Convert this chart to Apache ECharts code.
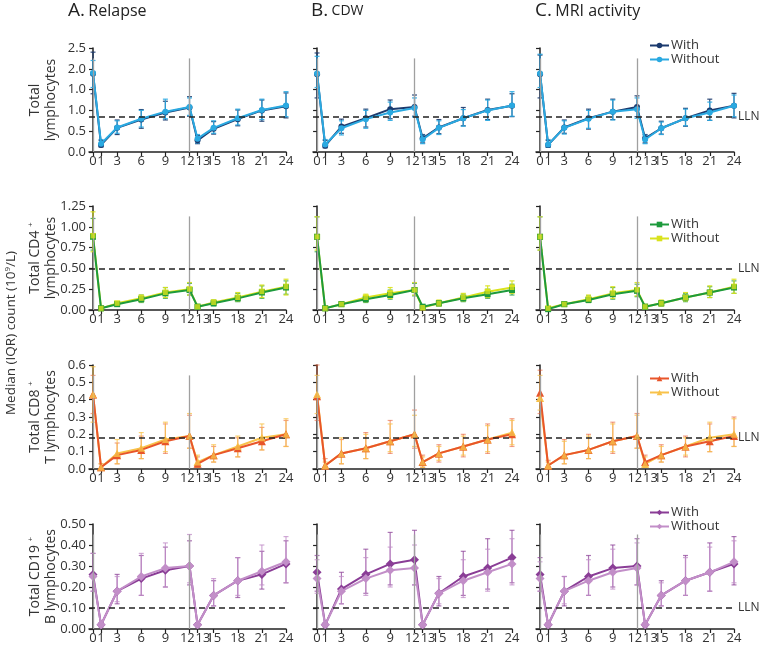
<!DOCTYPE html>
<html>
<head>
<meta charset="utf-8">
<script src="https://cdn.jsdelivr.net/npm/echarts@6/dist/echarts.min.js"></script>
<style>
html,body{margin:0;padding:0;background:#fff;}
#chart{width:760px;height:645px;}
</style>
</head>
<body>
<div id="chart"></div>
<script>
// ---------- DATA ----------
const months = [0, 1, 3, 6, 9, 12, 13, 15, 18, 21, 24];
const columnLetters = ['A.', 'B.', 'C.'];
const columnTitles = ['Relapse', 'CDW', 'MRI activity'];
const seriesNames = ['With', 'Without'];

const lymTicks = ['0.0', '0.5', '1.0', '1.0', '2.0', '2.5'];
const cd4Ticks = ['0.00', '0.25', '0.50', '0.75', '1.00', '1.25'];
const cd8Ticks = ['0.0', '0.1', '0.2', '0.3', '0.4', '0.5', '0.6'];
const cd19Ticks = ['0.00', '0.10', '0.20', '0.30', '0.40', '0.50'];

const llnValues = [0.85, 0.50, 0.18, 0.10];
const courseMonths = [0, 12];

// each entry: [median, Q1, Q3] at months[i]
const lymA_with = [[1.88,1.40,2.40],[0.17,0.12,0.28],[0.58,0.42,0.77],[0.78,0.57,1.02],[0.95,0.77,1.22],[1.07,0.86,1.33],[0.28,0.20,0.40],[0.56,0.43,0.73],[0.79,0.63,1.01],[1.00,0.74,1.25],[1.10,0.82,1.42]];
const lymA_without = [[1.90,1.55,2.20],[0.20,0.14,0.30],[0.59,0.45,0.75],[0.80,0.60,1.00],[0.97,0.80,1.27],[1.08,0.88,1.30],[0.32,0.22,0.42],[0.58,0.45,0.75],[0.81,0.65,1.03],[1.01,0.78,1.27],[1.12,0.85,1.45]];
const lymB_with = [[1.87,1.30,2.38],[0.15,0.10,0.28],[0.61,0.45,0.79],[0.81,0.60,1.03],[1.03,0.80,1.25],[1.08,0.86,1.37],[0.33,0.22,0.42],[0.59,0.44,0.78],[0.81,0.63,1.07],[1.01,0.78,1.27],[1.11,0.85,1.40]];
const lymB_without = [[1.89,1.55,2.30],[0.18,0.12,0.30],[0.57,0.41,0.75],[0.79,0.57,1.00],[0.95,0.76,1.20],[1.06,0.84,1.30],[0.30,0.20,0.40],[0.58,0.42,0.75],[0.81,0.62,1.02],[1.00,0.76,1.25],[1.12,0.86,1.45]];
const lymC_with = [[1.87,1.30,2.33],[0.17,0.11,0.28],[0.59,0.45,0.77],[0.81,0.55,1.03],[0.97,0.78,1.27],[1.08,0.85,1.35],[0.33,0.22,0.42],[0.57,0.43,0.74],[0.81,0.62,1.05],[1.00,0.76,1.27],[1.11,0.82,1.41]];
const lymC_without = [[1.89,1.55,2.35],[0.18,0.12,0.30],[0.58,0.43,0.75],[0.80,0.57,1.00],[0.97,0.77,1.25],[1.03,0.81,1.30],[0.30,0.20,0.40],[0.57,0.42,0.72],[0.81,0.63,1.03],[0.95,0.76,1.20],[1.11,0.85,1.37]];

const cd4A_with = [[0.88,0.72,1.10],[0.02,0.01,0.03],[0.07,0.05,0.10],[0.13,0.09,0.18],[0.20,0.14,0.27],[0.24,0.18,0.32],[0.04,0.02,0.06],[0.08,0.05,0.12],[0.14,0.10,0.20],[0.21,0.14,0.29],[0.27,0.19,0.35]];
const cd4A_without = [[0.89,0.70,1.18],[0.02,0.01,0.03],[0.08,0.05,0.10],[0.14,0.10,0.18],[0.21,0.15,0.27],[0.25,0.18,0.33],[0.04,0.02,0.06],[0.09,0.06,0.12],[0.15,0.11,0.21],[0.22,0.15,0.30],[0.28,0.18,0.37]];
const cd4B_with = [[0.88,0.70,1.12],[0.02,0.01,0.03],[0.07,0.05,0.10],[0.13,0.09,0.17],[0.18,0.13,0.24],[0.24,0.17,0.32],[0.04,0.02,0.06],[0.08,0.05,0.11],[0.14,0.10,0.19],[0.19,0.14,0.25],[0.24,0.18,0.31]];
const cd4B_without = [[0.88,0.72,1.12],[0.02,0.01,0.03],[0.07,0.05,0.10],[0.15,0.10,0.19],[0.20,0.14,0.27],[0.24,0.18,0.33],[0.03,0.02,0.05],[0.08,0.05,0.12],[0.15,0.11,0.20],[0.22,0.15,0.29],[0.27,0.20,0.35]];
const cd4C_with = [[0.88,0.72,1.12],[0.01,0.01,0.03],[0.07,0.05,0.10],[0.12,0.09,0.17],[0.19,0.13,0.27],[0.23,0.16,0.31],[0.04,0.02,0.06],[0.08,0.05,0.11],[0.15,0.10,0.20],[0.21,0.15,0.28],[0.27,0.20,0.35]];
const cd4C_without = [[0.88,0.72,1.12],[0.02,0.01,0.03],[0.07,0.05,0.10],[0.13,0.09,0.18],[0.20,0.14,0.28],[0.24,0.17,0.33],[0.04,0.02,0.06],[0.08,0.05,0.12],[0.15,0.11,0.21],[0.21,0.15,0.29],[0.28,0.20,0.37]];

const cd8A_with = [[0.43,0.32,0.54],[0.01,0.00,0.03],[0.08,0.03,0.15],[0.11,0.06,0.19],[0.16,0.09,0.26],[0.19,0.12,0.31],[0.03,0.01,0.07],[0.08,0.04,0.13],[0.12,0.07,0.18],[0.16,0.11,0.24],[0.20,0.13,0.28]];
const cd8A_without = [[0.43,0.27,0.59],[0.01,0.00,0.03],[0.09,0.03,0.17],[0.12,0.06,0.21],[0.17,0.10,0.27],[0.19,0.12,0.32],[0.04,0.01,0.08],[0.08,0.04,0.14],[0.13,0.07,0.19],[0.18,0.11,0.26],[0.20,0.13,0.29]];
const cd8B_with = [[0.42,0.28,0.60],[0.02,0.00,0.06],[0.09,0.03,0.17],[0.12,0.06,0.21],[0.16,0.09,0.28],[0.20,0.12,0.34],[0.04,0.01,0.08],[0.09,0.04,0.14],[0.13,0.07,0.20],[0.17,0.09,0.26],[0.20,0.13,0.29]];
const cd8B_without = [[0.43,0.32,0.54],[0.02,0.00,0.04],[0.09,0.03,0.18],[0.12,0.06,0.20],[0.16,0.10,0.26],[0.20,0.13,0.31],[0.04,0.01,0.07],[0.09,0.05,0.13],[0.13,0.08,0.19],[0.17,0.10,0.25],[0.21,0.14,0.28]];
const cd8C_with = [[0.44,0.32,0.57],[0.02,0.00,0.05],[0.08,0.03,0.17],[0.11,0.06,0.20],[0.16,0.09,0.27],[0.19,0.12,0.32],[0.04,0.01,0.08],[0.08,0.04,0.14],[0.13,0.07,0.19],[0.16,0.10,0.26],[0.19,0.13,0.30]];
const cd8C_without = [[0.41,0.34,0.54],[0.02,0.00,0.04],[0.08,0.03,0.16],[0.11,0.06,0.19],[0.16,0.10,0.26],[0.19,0.12,0.31],[0.03,0.01,0.07],[0.08,0.04,0.13],[0.13,0.08,0.18],[0.18,0.10,0.27],[0.20,0.13,0.29]];

const cd19A_with = [[0.26,0.18,0.36],[0.02,0.01,0.03],[0.18,0.12,0.26],[0.24,0.16,0.35],[0.28,0.20,0.39],[0.30,0.21,0.42],[0.02,0.01,0.03],[0.16,0.11,0.23],[0.23,0.15,0.34],[0.26,0.19,0.37],[0.31,0.22,0.42]];
const cd19A_without = [[0.25,0.18,0.36],[0.02,0.01,0.03],[0.18,0.13,0.25],[0.25,0.16,0.36],[0.29,0.20,0.41],[0.30,0.22,0.45],[0.02,0.01,0.03],[0.16,0.11,0.24],[0.23,0.16,0.34],[0.275,0.21,0.40],[0.32,0.22,0.44]];
const cd19B_with = [[0.27,0.18,0.35],[0.02,0.01,0.03],[0.19,0.12,0.27],[0.26,0.17,0.38],[0.31,0.21,0.46],[0.33,0.21,0.47],[0.02,0.01,0.03],[0.17,0.11,0.25],[0.25,0.16,0.37],[0.29,0.19,0.43],[0.34,0.22,0.47]];
const cd19B_without = [[0.24,0.17,0.33],[0.02,0.01,0.03],[0.18,0.12,0.25],[0.24,0.16,0.34],[0.28,0.20,0.39],[0.29,0.21,0.40],[0.02,0.01,0.03],[0.17,0.12,0.24],[0.23,0.15,0.33],[0.27,0.18,0.38],[0.31,0.21,0.43]];
const cd19C_with = [[0.26,0.18,0.34],[0.02,0.01,0.03],[0.18,0.11,0.25],[0.25,0.16,0.35],[0.29,0.20,0.40],[0.30,0.21,0.43],[0.02,0.01,0.03],[0.16,0.11,0.23],[0.23,0.16,0.35],[0.27,0.18,0.41],[0.31,0.21,0.44]];
const cd19C_without = [[0.24,0.18,0.32],[0.02,0.01,0.03],[0.18,0.12,0.25],[0.23,0.16,0.33],[0.27,0.19,0.38],[0.29,0.21,0.41],[0.02,0.01,0.03],[0.16,0.11,0.22],[0.23,0.16,0.34],[0.27,0.18,0.39],[0.32,0.22,0.42]];

// ---------- STYLE / LAYOUT ----------
const FONT = 'Open Sans';
const rowsCfg = [
  { ticks: lymTicks, max: 2.5, interval: 0.5,
    panels: [[lymA_with, lymA_without], [lymB_with, lymB_without], [lymC_with, lymC_without]],
    colors: ['#1b3a6e', '#2aa9e1'], err: ['rgba(27,58,110,0.9)', 'rgba(42,169,225,0.9)'],
    symbol: 'circle', size: 6, withOnTop: false,
    label: '{a|Total}\n{a|lymphocytes}' },
  { ticks: cd4Ticks, max: 1.25, interval: 0.25,
    panels: [[cd4A_with, cd4A_without], [cd4B_with, cd4B_without], [cd4C_with, cd4C_without]],
    colors: ['#1d9a3c', '#d9e21c'], err: ['rgba(29,154,60,0.75)', 'rgba(217,226,28,0.9)'],
    symbol: 'rect', size: 6, withOnTop: true,
    label: '{a|Total CD4 }{s|+}\n{a|lymphocytes}' },
  { ticks: cd8Ticks, max: 0.6, interval: 0.1,
    panels: [[cd8A_with, cd8A_without], [cd8B_with, cd8B_without], [cd8C_with, cd8C_without]],
    colors: ['#e8552a', '#f8c24a'], err: ['rgba(232,85,42,0.55)', 'rgba(248,194,74,0.75)'],
    symbol: 'triangle', size: 8, withOnTop: true,
    label: '{a|Total CD8 }{s|+}\n{a|T lymphocytes}' },
  { ticks: cd19Ticks, max: 0.5, interval: 0.1,
    panels: [[cd19A_with, cd19A_without], [cd19B_with, cd19B_without], [cd19C_with, cd19C_without]],
    colors: ['#8a3d96', '#c28ec8'], err: ['rgba(138,61,150,0.7)', 'rgba(194,142,200,0.75)'],
    symbol: 'diamond', size: 9, withOnTop: false,
    label: '{a|Total CD19 }{s|+}\n{a|B lymphocytes}' }
];
const colLayout = [{ left: 89, width: 197 }, { left: 313, width: 199 }, { left: 536, width: 198 }];
const rowLayout = [{ top: 48, height: 104 }, { top: 206, height: 104 }, { top: 365, height: 104 }, { top: 524, height: 105 }];
const legendTops = [34, 213, 367, 501];

const grid = [], xAxis = [], yAxis = [], series = [], legend = [], graphic = [];

function errRender(color) {
  return function (params, api) {
    const x = api.value(0), lo = api.value(1), hi = api.value(2);
    const p1 = api.coord([x, lo]), p2 = api.coord([x, hi]);
    const w = 2.5;
    const st = { stroke: color, lineWidth: 1.2 };
    return { type: 'group', children: [
      { type: 'line', shape: { x1: p1[0], y1: p1[1], x2: p2[0], y2: p2[1] }, style: st },
      { type: 'line', shape: { x1: p1[0] - w, y1: p1[1], x2: p1[0] + w, y2: p1[1] }, style: st },
      { type: 'line', shape: { x1: p2[0] - w, y1: p2[1], x2: p2[0] + w, y2: p2[1] }, style: st }
    ]};
  };
}

// nudge the crowded 12 / 13 labels apart with spacing characters
function xLabel(v) {
  if (v === 12) return '12\u2009\u2009';
  if (v === 13) return '\u2002\u2009\u200913';
  return String(v);
}

rowsCfg.forEach((rc, r) => {
  colLayout.forEach((cl, c) => {
    const gi = r * 3 + c;
    grid.push({ left: cl.left, width: cl.width, top: rowLayout[r].top, height: rowLayout[r].height, containLabel: false });
    xAxis.push({
      type: 'value', gridIndex: gi, min: -0.5, max: 24,
      axisLine: { show: true, onZero: false, lineStyle: { color: '#222', width: 1.5 } },
      axisTick: { show: true, customValues: months, length: 4, lineStyle: { color: '#222', width: 1.2 } },
      axisLabel: { customValues: months, margin: 3, formatter: xLabel, hideOverlap: false,
        fontSize: 13, color: '#333', fontFamily: FONT },
      splitLine: { show: false }
    });
    yAxis.push({
      type: 'value', gridIndex: gi, min: 0, max: rc.max, interval: rc.interval,
      axisLine: { show: true, lineStyle: { color: '#222', width: 1.5 } },
      axisTick: { show: true, length: 4, lineStyle: { color: '#222', width: 1.2 } },
      axisLabel: { show: c === 0, fontSize: 13, color: '#333', margin: 3, fontFamily: FONT,
        formatter: (v) => rc.ticks[Math.round(v / rc.interval)] },
      splitLine: { show: false }
    });
    // reference lines (treatment courses + LLN)
    series.push({
      type: 'line', xAxisIndex: gi, yAxisIndex: gi, data: [], z: 1, silent: true,
      markLine: {
        silent: true, symbol: 'none', animation: false,
        data: courseMonths.map(m => [
          { coord: [m, 0], lineStyle: { color: '#a0a0a0', width: 1.3, type: 'solid' }, label: { show: false } },
          { coord: [m, rc.max * 0.9] }
        ]).concat([{
          yAxis: llnValues[r],
          lineStyle: { color: '#222', width: 1.5, type: [6, 4] },
          label: { show: c === 2, position: 'end', formatter: 'LLN', color: '#333', fontSize: 12, fontFamily: FONT, distance: 4 }
        }])
      }
    });
    rc.panels[c].forEach((arr, s) => {
      series.push({
        type: 'custom', xAxisIndex: gi, yAxisIndex: gi, z: 2, silent: true,
        renderItem: errRender(rc.err[s]),
        data: months.map((m, i) => [m, arr[i][1], arr[i][2]])
      });
    });
    rc.panels[c].forEach((arr, s) => {
      const lineZ = rc.withOnTop ? (s === 0 ? 4 : 3) : 3 + s;
      series.push({
        type: 'line', name: seriesNames[s] + '|' + r, xAxisIndex: gi, yAxisIndex: gi, z: lineZ,
        data: months.map((m, i) => [m, arr[i][0]]),
        symbol: rc.symbol, symbolSize: rc.size, showSymbol: true,
        lineStyle: { color: rc.colors[s], width: 2 },
        itemStyle: { color: rc.colors[s] },
        animation: false
      });
      if (rc.withOnTop && s === 1) {
        // markers of the "Without" group drawn above the "With" line
        series.push({
          type: 'scatter', xAxisIndex: gi, yAxisIndex: gi, z: 5, silent: true,
          data: months.map((m, i) => [m, arr[i][0]]),
          symbol: rc.symbol, symbolSize: rc.size - 1,
          itemStyle: { color: rc.colors[s] }, animation: false
        });
      }
    });
  });
  legend.push({
    orient: 'vertical', left: 644, top: legendTops[r], itemGap: 1, itemWidth: 19, itemHeight: 7,
    data: seriesNames.map(n => n + '|' + r),
    formatter: (name) => name.split('|')[0],
    textStyle: { fontSize: 13, color: '#333', fontFamily: FONT, padding: [0, 0, 0, -3] },
    selectedMode: false
  });
  graphic.push({
    type: 'text', x: 43, y: rowLayout[r].top + rowLayout[r].height / 2, rotation: Math.PI / 2,
    style: { text: rc.label, align: 'center', verticalAlign: 'middle', fill: '#333',
      rich: { a: { fontSize: 14, fontFamily: FONT, lineHeight: 16, fill: '#333' },
              s: { fontSize: 8, fontFamily: FONT, verticalAlign: 'top', lineHeight: 16, fill: '#333' } } }
  });
});

const titleX = [68, 311, 535];
columnLetters.forEach((L, c) => {
  graphic.push({
    type: 'text', x: titleX[c], y: 11,
    style: { text: '{b|' + L + '} {s|' + columnTitles[c] + '}', align: 'left', verticalAlign: 'middle',
      rich: { b: { fontSize: 19, fontFamily: FONT, fill: '#222' },
              s: { fontSize: c === 1 ? 14 : 16, fontFamily: FONT, fill: '#222' } } }
  });
});
graphic.push({
  type: 'text', x: 11, y: 333, rotation: Math.PI / 2,
  style: { text: 'Median (IQR) count (10{p|9}/L)', align: 'center', verticalAlign: 'middle', fill: '#333',
    font: '13.5px "Open Sans"',
    rich: { p: { fontSize: 8, fontFamily: FONT, verticalAlign: 'top', fill: '#333' } } }
});

const chart = echarts.init(document.getElementById('chart'), null, { renderer: 'canvas' });
chart.setOption({
  animation: false,
  textStyle: { fontFamily: FONT },
  grid, xAxis, yAxis, series, legend, graphic
});
</script>
</body>
</html>
